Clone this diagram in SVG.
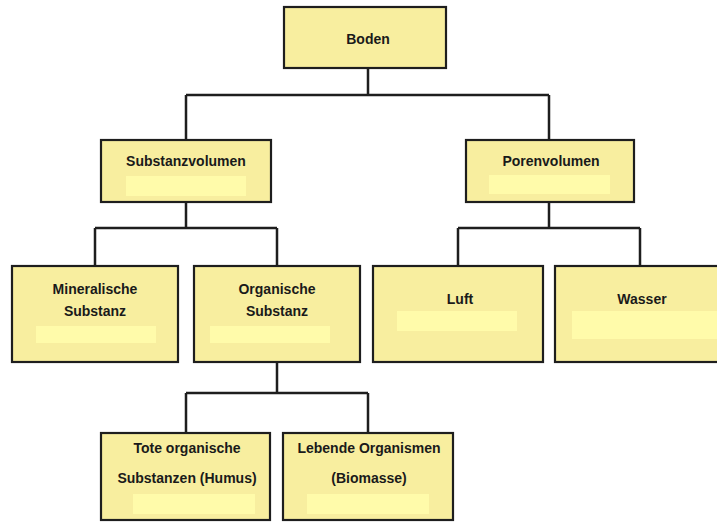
<svg xmlns="http://www.w3.org/2000/svg" width="717" height="522" viewBox="0 0 717 522">
<style>
.box{fill:#F8EE9F;stroke:#1e1e1e;stroke-width:2.2}
.hl{fill:#FFFBAA}
.t{font-family:"Liberation Sans",Arial,sans-serif;font-weight:bold;font-size:14px;fill:#1a1a1a;text-anchor:middle}
.c{fill:none;stroke:#1e1e1e;stroke-width:2.5}
</style>
<rect width="717" height="522" fill="#ffffff"/>
<g id="connectors">
<path class="c" d="M368 68V95M186 95H549M186 95V140M549 95V140"/>
<path class="c" d="M186 202V228M95 228H277M95 228V266M277 228V266"/>
<path class="c" d="M549 202V228M458 228H640M458 228V266M640 228V266"/>
<path class="c" d="M277 362V393M186 393H368M186 393V433M368 393V433"/>
</g>
<g id="boden">
<rect class="box" x="284" y="7" width="162" height="61"/>
<text class="t" x="368" y="44">Boden</text>
</g>
<g id="substanzvolumen">
<rect class="box" x="101" y="140" width="170" height="62"/>
<rect class="hl" x="126" y="176" width="120" height="20"/>
<text class="t" x="186" y="166">Substanzvolumen</text>
</g>
<g id="porenvolumen">
<rect class="box" x="466" y="140" width="168" height="62"/>
<rect class="hl" x="489" y="175" width="121" height="19"/>
<text class="t" x="551" y="166">Porenvolumen</text>
</g>
<g id="mineralische">
<rect class="box" x="12" y="266" width="166" height="96"/>
<rect class="hl" x="36" y="326" width="120" height="17"/>
<text class="t" x="95" y="294">Mineralische</text>
<text class="t" x="95" y="316">Substanz</text>
</g>
<g id="organische">
<rect class="box" x="194" y="266" width="166" height="96"/>
<rect class="hl" x="210" y="326" width="120" height="17"/>
<text class="t" x="277" y="294">Organische</text>
<text class="t" x="277" y="316">Substanz</text>
</g>
<g id="luft">
<rect class="box" x="373" y="266" width="170" height="96"/>
<rect class="hl" x="397" y="311" width="120" height="20"/>
<text class="t" x="460" y="304">Luft</text>
</g>
<g id="wasser">
<rect class="box" x="555" y="266" width="172" height="96"/>
<rect class="hl" x="572" y="311" width="150" height="28"/>
<text class="t" x="642" y="304">Wasser</text>
</g>
<g id="tote">
<rect class="box" x="101" y="433" width="169" height="87"/>
<rect class="hl" x="133" y="494" width="122" height="20"/>
<text class="t" x="187" y="453">Tote organische</text>
<text class="t" x="187" y="483">Substanzen (Humus)</text>
</g>
<g id="lebende">
<rect class="box" x="283" y="433" width="170" height="87"/>
<rect class="hl" x="307" y="494" width="122" height="20"/>
<text class="t" x="369" y="453">Lebende Organismen</text>
<text class="t" x="369" y="483">(Biomasse)</text>
</g>
</svg>
